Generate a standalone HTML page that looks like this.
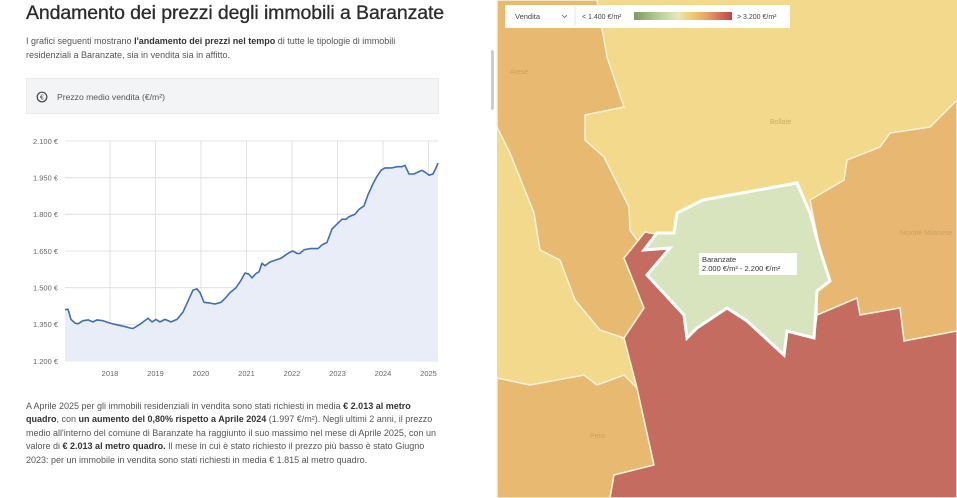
<!DOCTYPE html>
<html><head><meta charset="utf-8"><style>
*{margin:0;padding:0;box-sizing:border-box}
body{width:957px;height:498px;overflow:hidden;background:#fff;font-family:"Liberation Sans",sans-serif;color:#333;position:relative}
h1{position:absolute;left:26px;top:2px;font-size:19.5px;font-weight:normal;color:#2b2b2b;-webkit-text-stroke:0.3px #2b2b2b;letter-spacing:-0.1px}
.p1{position:absolute;left:26px;top:35px;width:405px;font-size:9px;line-height:13.5px;color:#555}
.box{position:absolute;left:26px;top:78px;width:413px;height:36px;background:#f3f4f6;border:1px solid #ececec;font-size:8.6px;color:#555}
.box span{position:absolute;left:30px;top:13px}
.p2{position:absolute;left:26px;top:400px;width:418px;font-size:9px;line-height:13.4px;color:#555}
b{color:#333}
</style></head><body>
<h1>Andamento dei prezzi degli immobili a Baranzate</h1>
<div class="p1">I grafici seguenti mostrano <b>l'andamento dei prezzi nel tempo</b> di tutte le tipologie di immobili residenziali a Baranzate, sia in vendita sia in affitto.</div>
<div class="box"><svg style="position:absolute;left:9px;top:12px" width="12" height="12"><circle cx="6" cy="6" r="4.8" fill="none" stroke="#444" stroke-width="1.2"/><text x="6" y="8.6" font-size="7" text-anchor="middle" fill="#444" font-family="Liberation Sans">€</text></svg><span>Prezzo medio vendita (€/m²)</span></div>
<div style="position:absolute;left:491px;top:50px;width:3px;height:60px;background:#ccc;border-radius:2px"></div>
<svg style="position:absolute;left:0;top:0" width="497" height="398" font-family="Liberation Sans" font-size="7.5" fill="#666">
<g stroke="#dcdcdc" stroke-width="0.8">
<line x1="65" y1="141" x2="438" y2="141"/><line x1="65" y1="177.7" x2="438" y2="177.7"/><line x1="65" y1="214.3" x2="438" y2="214.3"/><line x1="65" y1="251" x2="438" y2="251"/><line x1="65" y1="287.7" x2="438" y2="287.7"/><line x1="65" y1="324.3" x2="438" y2="324.3"/><line x1="65" y1="361" x2="438" y2="361"/>
<line x1="110" y1="141" x2="110" y2="361"/><line x1="155.5" y1="141" x2="155.5" y2="361"/><line x1="201" y1="141" x2="201" y2="361"/><line x1="246.5" y1="141" x2="246.5" y2="361"/><line x1="292" y1="141" x2="292" y2="361"/><line x1="337.5" y1="141" x2="337.5" y2="361"/><line x1="383" y1="141" x2="383" y2="361"/><line x1="428.5" y1="141" x2="428.5" y2="361"/>
</g>
<g text-anchor="end"><text x="58" y="144">2.100 €</text><text x="58" y="180.5">1.950 €</text><text x="58" y="217">1.800 €</text><text x="58" y="254">1.650 €</text><text x="58" y="290.5">1.500 €</text><text x="58" y="327">1.350 €</text><text x="58" y="364">1.200 €</text></g>
<g text-anchor="middle"><text x="110" y="376">2018</text><text x="155.5" y="376">2019</text><text x="201" y="376">2020</text><text x="246.5" y="376">2021</text><text x="292" y="376">2022</text><text x="337.5" y="376">2023</text><text x="383" y="376">2024</text><text x="428.5" y="376">2025</text></g>
<polygon fill="#e8edf7" points="65,361 65,309.7 68,309.2 71,319.4 75,323.1 78,323.8 83,320.7 88,319.9 93,321.9 97,319.9 103,320.7 110,323.1 117,324.8 124,326.3 130,328 133,328.5 140,324.3 148,318.2 152,321.9 156,319.4 160,321.9 165,319.4 171,321.9 177,319.4 183,312.1 188,301.1 193,290.1 197,288.9 200,292.6 204,302.3 210,303.1 215,304 221,302.3 226,297.4 230,292.6 236,287.7 241,280.3 245,273 249,274.2 252,277.9 256,273.5 259,271.8 262,263.2 265,265.7 270,262 275,260.3 281,258.3 286,254.7 290,252.2 293,251 297,253.4 300,253.4 304,249.8 310,248.6 318,248.6 322,244.9 327,242.4 332,229 337,224.1 342,219.2 346,219.2 349,216.8 355,214.3 359,209.4 364,205.8 368,194.8 373,183.8 377,176.4 381,170.3 385,167.9 392,167.9 397,166.7 402,166.7 405,165.4 409,174 414,174 419,171.6 422,170.3 426,172.8 429,175.2 433,174 436,167.9 438,163 438,361"/>
<polyline fill="none" stroke="#3f6fb0" stroke-width="1.6" stroke-linejoin="round" points="65,309.7 68,309.2 71,319.4 75,323.1 78,323.8 83,320.7 88,319.9 93,321.9 97,319.9 103,320.7 110,323.1 117,324.8 124,326.3 130,328 133,328.5 140,324.3 148,318.2 152,321.9 156,319.4 160,321.9 165,319.4 171,321.9 177,319.4 183,312.1 188,301.1 193,290.1 197,288.9 200,292.6 204,302.3 210,303.1 215,304 221,302.3 226,297.4 230,292.6 236,287.7 241,280.3 245,273 249,274.2 252,277.9 256,273.5 259,271.8 262,263.2 265,265.7 270,262 275,260.3 281,258.3 286,254.7 290,252.2 293,251 297,253.4 300,253.4 304,249.8 310,248.6 318,248.6 322,244.9 327,242.4 332,229 337,224.1 342,219.2 346,219.2 349,216.8 355,214.3 359,209.4 364,205.8 368,194.8 373,183.8 377,176.4 381,170.3 385,167.9 392,167.9 397,166.7 402,166.7 405,165.4 409,174 414,174 419,171.6 422,170.3 426,172.8 429,175.2 433,174 436,167.9 438,163"/>
</svg>
<div class="p2">A Aprile 2025 per gli immobili residenziali in vendita sono stati richiesti in media <b>€ 2.013 al metro quadro</b>, con <b>un aumento del 0,80% rispetto a Aprile 2024</b> (1.997 €/m²). Negli ultimi 2 anni, il prezzo medio all'interno del comune di Baranzate ha raggiunto il suo massimo nel mese di Aprile 2025, con un valore di <b>€ 2.013 al metro quadro.</b> Il mese in cui è stato richiesto il prezzo più basso è stato Giugno 2023: per un immobile in vendita sono stati richiesti in media € 1.815 al metro quadro.</div>
<svg style="position:absolute;left:0;top:0" width="957" height="498" viewBox="0 0 957 498">
<rect x="497" y="0" width="460" height="498" fill="#f2d98c"/>
<g stroke="#fbf3dc" stroke-width="1.5">
<polygon fill="#e8b971" points="500,0 597,0 607,57 624,107 585,115 585,140 604,157 629,207 630,230 644,250 624,258 644,308 624,338 600,330 575,300 560,260 540,250 534,213 510,153 497,127 497,0"/>
<polygon fill="#e8b971" points="497,378 530,385 584,375 597,385 624,375 637,388 654,465 614,475 610,498 497,498"/>
<polygon fill="#e8b872" points="957,100 930,127 890,133 880,147 847,160 844,180 810,200 820,250 830,281 817,291 817,315 857,298 860,315 900,308 904,341 957,331"/>
<polygon fill="#c46c60" points="624,258 645,232 676,238 670,248 647,275 684,315 687,338 697,328 727,308 747,321 784,355 787,331 814,338 817,315 857,298 860,315 900,308 904,341 957,331 957,498 610,498 614,475 654,465 637,388 624,338 644,308"/>
</g>
<polygon fill="#d7e4bd" stroke="#fff" stroke-width="3" points="644,250 657,233 674,233 677,213 703,200 797,183 810,213 820,250 830,281 817,291 814,338 787,331 784,355 747,321 727,308 697,328 687,338 684,315 647,275 670,248"/>
<rect x="505" y="5" width="285" height="23" fill="#fff"/>
<line x1="575" y1="7" x2="575" y2="26" stroke="#e5e5e5"/>
<text x="515" y="19" font-family="Liberation Sans" font-size="7.5" fill="#444">Vendita</text>
<polyline points="562,15 564.5,17.5 567,15" fill="none" stroke="#666" stroke-width="0.8"/>
<text x="582" y="19" font-family="Liberation Sans" font-size="7" fill="#444">&lt; 1.400 €/m²</text>
<defs><linearGradient id="g"><stop offset="0" stop-color="#7f9a5c"/><stop offset="0.3" stop-color="#c2d6a2"/><stop offset="0.45" stop-color="#e7e8b5"/><stop offset="0.6" stop-color="#f1c96a"/><stop offset="0.75" stop-color="#e9a064"/><stop offset="1" stop-color="#c0404a"/></linearGradient></defs>
<rect x="634" y="12" width="98" height="8" fill="url(#g)"/>
<text x="737" y="19" font-family="Liberation Sans" font-size="7" fill="#444">&gt; 3.200 €/m²</text>
<rect x="699" y="253" width="98" height="22" fill="#fff"/>
<text x="702" y="262" font-family="Liberation Sans" font-size="7.5" fill="#333">Baranzate</text>
<text x="702" y="271" font-family="Liberation Sans" font-size="7.5" fill="#333">2.000 €/m² - 2.200 €/m²</text>
<g font-family="Liberation Sans" font-size="7" fill="#b89a5a" opacity="0.7"><text x="770" y="124">Bollate</text><text x="510" y="74">Arese</text><text x="900" y="235">Novate Milanese</text><text x="590" y="438">Pero</text></g>
</svg>
</body></html>
